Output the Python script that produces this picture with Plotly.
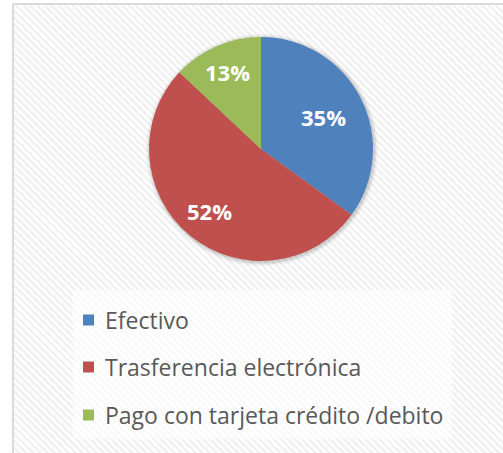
import base64
import math
import plotly.graph_objects as go

# Payment method shares
labels = ["Efectivo", "Trasferencia electrónica", "Pago con tarjeta crédito /debito"]
values = [35, 52, 13]
colors = ["#4F81BD", "#C0504D", "#9BBB59"]

W, H = 503, 453
CX, CY, R = 261, 149, 112  # pie centre and radius, pixels

def px_x(x):
    return x / W

def px_y(y):
    return 1 - y / H

# Diagonal striped chart-area fill
stripe_svg = (
    '<svg xmlns="http://www.w3.org/2000/svg" width="491" height="450">'
    '<defs><pattern id="p" width="5" height="5" patternUnits="userSpaceOnUse" '
    'patternTransform="rotate(-45)">'
    '<rect width="5" height="5" fill="#ffffff"/>'
    '<rect width="2.5" height="5" fill="#f0f0f0"/>'
    '</pattern></defs>'
    '<rect width="491" height="450" fill="url(#p)"/></svg>'
)
stripe_src = "data:image/svg+xml;base64," + base64.b64encode(stripe_svg.encode()).decode()

fig = go.Figure(
    go.Pie(
        labels=labels,
        values=values,
        sort=False,
        direction="clockwise",
        rotation=0,
        marker=dict(colors=colors, line=dict(width=0)),
        textinfo="none",
        domain=dict(x=[px_x(CX - R), px_x(CX + R)], y=[px_y(CY + R), px_y(CY - R)]),
        showlegend=False,
        hoverinfo="skip",
    )
)

shapes = [
    # legend panel
    dict(type="rect", xref="paper", yref="paper",
         x0=px_x(73), x1=px_x(452), y0=px_y(439), y1=px_y(290),
         fillcolor="rgba(255,255,255,0.6)", line=dict(width=0), layer="below"),
    # chart border
    dict(type="line", xref="paper", yref="paper",
         x0=px_x(13), x1=1, y0=px_y(4), y1=px_y(4),
         line=dict(color="#D9D9D9", width=2)),
    dict(type="line", xref="paper", yref="paper",
         x0=px_x(13), x1=px_x(13), y0=px_y(4), y1=0,
         line=dict(color="#D9D9D9", width=2)),
]

# soft shadow behind the pie
for grow, alpha in [(4, 0.04), (2.5, 0.06), (1.2, 0.08)]:
    shapes.append(dict(type="circle", xref="paper", yref="paper",
                       x0=px_x(CX - R - grow + 1), x1=px_x(CX + R + grow + 1),
                       y0=px_y(CY + R + grow + 1), y1=px_y(CY - R - grow + 1),
                       fillcolor=f"rgba(0,0,0,{alpha})", line=dict(width=0),
                       layer="below"))

annotations = []

# Percentage labels placed inside each slice along its mid-angle
label_radius = [0.63, 0.72, 0.75]
total = sum(values)
cum = 0
for v, rf in zip(values, label_radius):
    mid = (cum + v / 2) / total * 2 * math.pi
    cum += v
    x = CX + rf * R * math.sin(mid)
    y = CY - rf * R * math.cos(mid)
    annotations.append(dict(text=f"{round(v / total * 100)}%", xref="paper", yref="paper",
                            x=px_x(x), y=px_y(y), xanchor="center", yanchor="middle",
                            showarrow=False,
                            font=dict(family="Open Sans", size=22, color="white",
                                      weight="bold")))

# Legend entries
legend_y = [320, 367, 415]
for lab, col, yc in zip(labels, colors, legend_y):
    shapes.append(dict(type="rect", xref="paper", yref="paper",
                       x0=px_x(83), x1=px_x(94), y0=px_y(yc + 5.5), y1=px_y(yc - 5.5),
                       fillcolor=col, line=dict(width=0)))
    annotations.append(dict(text=lab, xref="paper", yref="paper",
                            x=px_x(103), y=px_y(yc), xanchor="left", yanchor="middle",
                            showarrow=False,
                            font=dict(family="Open Sans", size=23, color="#595959")))

fig.update_layout(
    width=W, height=H,
    margin=dict(l=0, r=0, t=0, b=0),
    paper_bgcolor="white",
    plot_bgcolor="white",
    shapes=shapes,
    annotations=annotations,
    images=[dict(source=stripe_src, xref="paper", yref="paper",
                 x=px_x(13), y=px_y(4), sizex=1 - px_x(13), sizey=px_y(4),
                 xanchor="left", yanchor="top", sizing="stretch", layer="below")],
)

fig.write_html("out.html")
